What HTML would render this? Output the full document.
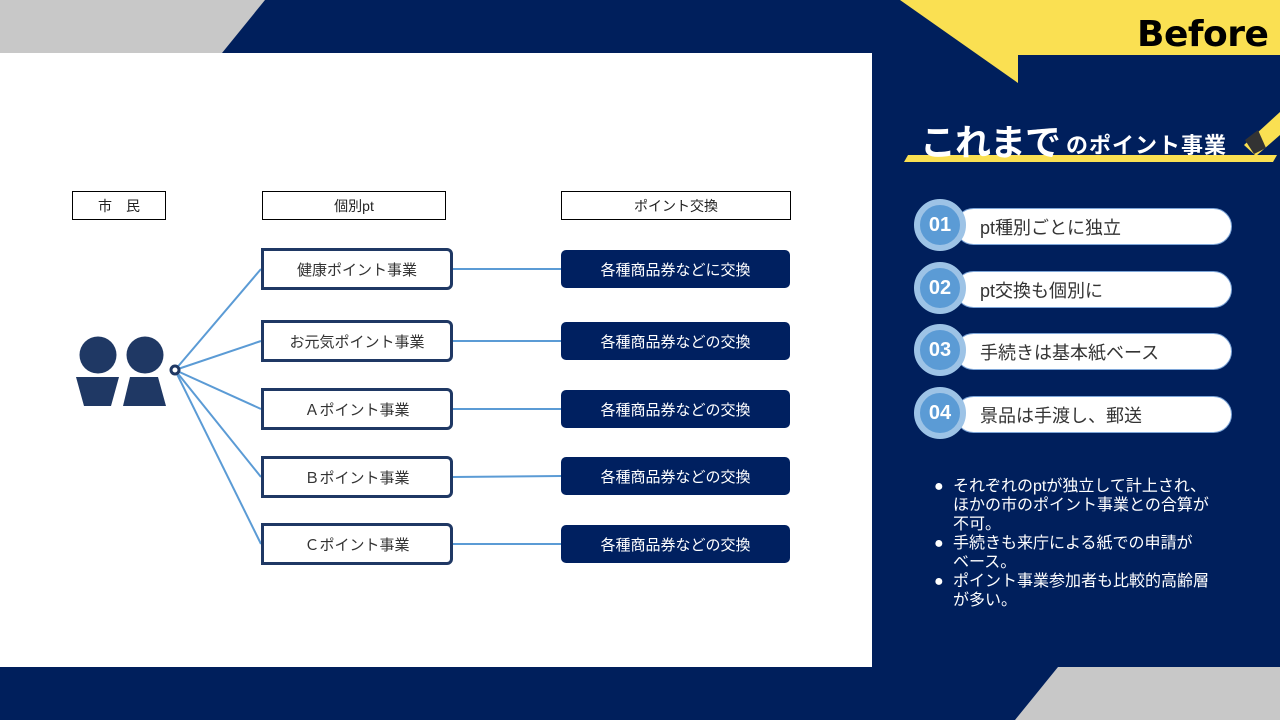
<!DOCTYPE html>
<html><head><meta charset="utf-8"><style>
body{margin:0;width:1280px;height:720px;overflow:hidden;background:#001f5c;position:relative;font-family:"Liberation Sans","Noto Sans CJK JP",sans-serif}
.a{position:absolute;box-sizing:border-box;display:flex;align-items:center;justify-content:center;white-space:nowrap}
.h{border:1px solid #000;background:#fff;font-size:14px;color:#222;height:29px;top:191px}
.l{left:261px;width:192px;height:42px;border:3px solid #1f3864;border-radius:0 6px 6px 0;background:#fff;font-size:15px;color:#333}
.r{left:561px;width:229px;height:38px;background:#002060;border-radius:5px;color:#fff;font-size:15px}
.p{left:955px;width:277px;height:37px;background:#fff;border-radius:19px;border:1px solid #7ea6d8;justify-content:flex-start;padding-left:24px;font-size:18px;color:#333}
.c{width:52px;height:52px;border-radius:50%;background:#5b9bd5;border:6px solid #9dc3e6;color:#fff;font-weight:bold;font-size:20px;left:914px}
.b{padding-left:19px;position:relative;line-break:strict}
</style></head><body>
<svg width="1280" height="720" style="position:absolute;left:0;top:0">
<polygon points="0,0 265,0 222,53 0,53" fill="#c8c8c8"/>
<rect x="0" y="53" width="872" height="614" fill="#fff"/>
<polygon points="1058,667 1280,667 1280,720 1015,720" fill="#c8c8c8"/>
<polygon points="900,0 1280,0 1280,55 1018,55 1018,83" fill="#fae052"/>
<polygon points="908,155 1277,155 1273,162 904,162" fill="#fae052"/>
<polygon points="1244,145 1280,112 1280,135 1256,156" fill="#fae052"/>
<polygon points="1245,140 1258,130 1266,148 1254,154" fill="#333"/>
<g stroke="#5b9bd5" stroke-width="2">
<line x1="175" y1="370" x2="261" y2="269"/><line x1="175" y1="370" x2="261" y2="341"/><line x1="175" y1="370" x2="261" y2="409"/><line x1="175" y1="370" x2="261" y2="477"/><line x1="175" y1="370" x2="261" y2="544"/>
<line x1="452" y1="269" x2="561" y2="269"/><line x1="452" y1="341" x2="561" y2="341"/><line x1="452" y1="409" x2="561" y2="409"/><line x1="452" y1="477" x2="561" y2="476"/><line x1="452" y1="544" x2="561" y2="544"/>
</g>
<circle cx="175" cy="370" r="4" fill="#fff" stroke="#1f3864" stroke-width="3"/>
<circle cx="98" cy="355" r="18.5" fill="#1f3864"/><circle cx="145" cy="355" r="18.5" fill="#1f3864"/>
<polygon points="76,377 119,377 111,406 84,406" fill="#1f3864"/>
<polygon points="130,377 158,377 166,406 123,406" fill="#1f3864"/>
</svg>
<div class="a" style="left:1137px;top:14px;font-size:36px;font-weight:bold;color:#000;font-family:'DejaVu Sans',sans-serif;letter-spacing:-0.5px">Before</div>
<div class="a" style="left:920px;top:114px;color:#fff;font-weight:bold"><span style="font-size:36px;letter-spacing:-1px">これまで</span><span style="font-size:22px;margin-top:8px;margin-left:6px;letter-spacing:1px">のポイント事業</span></div>
<div class="a h" style="left:72px;width:94px">市　民</div>
<div class="a h" style="left:262px;width:184px">個別pt</div>
<div class="a h" style="left:561px;width:230px">ポイント交換</div>
<div class="a l" style="top:248px">健康ポイント事業</div>
<div class="a l" style="top:320px">お元気ポイント事業</div>
<div class="a l" style="top:388px">Ａポイント事業</div>
<div class="a l" style="top:456px">Ｂポイント事業</div>
<div class="a l" style="top:523px">Ｃポイント事業</div>
<div class="a r" style="top:250px">各種商品券などに交換</div>
<div class="a r" style="top:322px">各種商品券などの交換</div>
<div class="a r" style="top:390px">各種商品券などの交換</div>
<div class="a r" style="top:457px">各種商品券などの交換</div>
<div class="a r" style="top:525px">各種商品券などの交換</div>
<div class="a p" style="top:208px">pt種別ごとに独立</div>
<div class="a p" style="top:271px">pt交換も個別に</div>
<div class="a p" style="top:333px">手続きは基本紙ベース</div>
<div class="a p" style="top:396px">景品は手渡し、郵送</div>
<div class="a c" style="top:199px">01</div>
<div class="a c" style="top:262px">02</div>
<div class="a c" style="top:324px">03</div>
<div class="a c" style="top:387px">04</div>
<div style="position:absolute;left:934px;top:477px;color:#fff;font-size:16px;line-height:19px;width:286px">
<div class="b"><span style="position:absolute;left:0">●</span>それぞれのptが独立して計上され、<br>ほかの市のポイント事業との合算が<br>不可。</div>
<div class="b"><span style="position:absolute;left:0">●</span>手続きも来庁による紙での申請が<br>ベース。</div>
<div class="b"><span style="position:absolute;left:0">●</span>ポイント事業参加者も比較的高齢層<br>が多い。</div>
</div>
</body></html>
